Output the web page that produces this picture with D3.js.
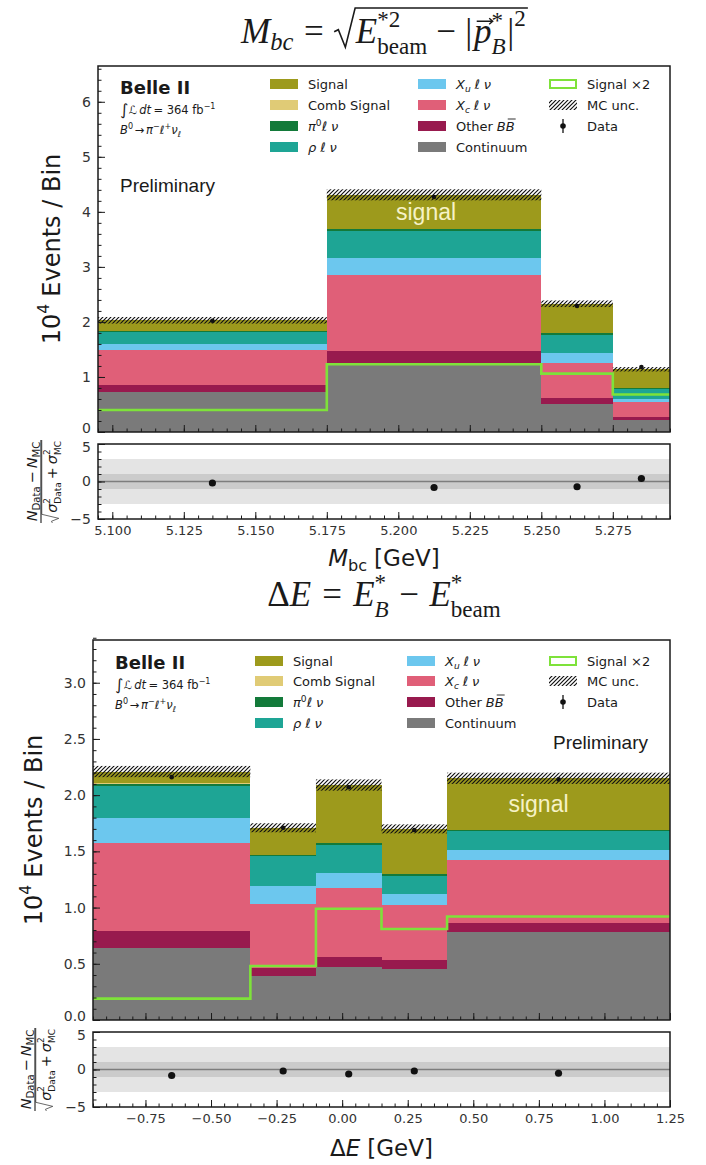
<!DOCTYPE html>
<html>
<head>
<meta charset="utf-8">
<script src="https://cdn.jsdelivr.net/npm/d3@7"></script>
<style>
  body { margin: 0; background: #fff; }
  svg text { font-family: "DejaVu Sans", sans-serif; fill: #1a1a1a; }
</style>
</head>
<body>
<svg id="chart" width="706" height="1165"></svg>
<script>
// ---- M_bc histogram (10^4 events / bin) ----
var mbcEdges     = [5.095, 5.175, 5.25, 5.275, 5.295];
var mbcContinuum = [0.72, 1.25, 0.50, 0.22];
var mbcOtherBB   = [0.14, 0.23, 0.11, 0.05];
var mbcXc        = [0.63, 1.37, 0.65, 0.27];
var mbcXu        = [0.10, 0.32, 0.17, 0.06];
var mbcRho       = [0.22, 0.48, 0.33, 0.18];
var mbcPi0       = [0.02, 0.03, 0.03, 0.02];
var mbcComb      = [0.01, 0.01, 0.00, 0.00];
var mbcSignal    = [0.19, 0.62, 0.54, 0.34];
var mbcUnc       = [0.06, 0.10, 0.06, 0.04];
var mbcData      = [2.02, 4.27, 2.29, 1.18];
var mbcDataErr   = [0.014, 0.021, 0.015, 0.011];
var mbcSignalX2  = [0.40, 1.23, 1.06, 0.68];
var mbcPull      = [-0.2, -0.8, -0.7, 0.4];
var mbcXTicks    = [5.100, 5.125, 5.150, 5.175, 5.200, 5.225, 5.250, 5.275];
var mbcYTicks    = [0, 1, 2, 3, 4, 5, 6];

// ---- Delta E histogram ----
var deEdges     = [-0.95, -0.35, -0.10, 0.15, 0.40, 1.25];
var deContinuum = [0.64, 0.39, 0.47, 0.45, 0.78];
var deOtherBB   = [0.15, 0.07, 0.09, 0.08, 0.08];
var deXc        = [0.78, 0.57, 0.61, 0.49, 0.56];
var deXu        = [0.23, 0.16, 0.14, 0.10, 0.09];
var deRho       = [0.28, 0.27, 0.25, 0.16, 0.17];
var dePi0       = [0.02, 0.01, 0.01, 0.02, 0.01];
var deComb      = [0.01, 0.00, 0.00, 0.00, 0.00];
var deSignal    = [0.10, 0.24, 0.52, 0.40, 0.46];
var deUnc       = [0.05, 0.04, 0.05, 0.04, 0.05];
var deData      = [2.16, 1.71, 2.07, 1.69, 2.14];
var deDataErr   = [0.015, 0.013, 0.014, 0.013, 0.015];
var deSignalX2  = [0.19, 0.48, 0.99, 0.81, 0.92];
var dePull      = [-0.8, -0.2, -0.6, -0.2, -0.5];
var deXTicks    = [-0.75, -0.50, -0.25, 0.00, 0.25, 0.50, 0.75, 1.00, 1.25];
var deYTicks    = [0, 0.5, 1.0, 1.5, 2.0, 2.5, 3.0];

var pullTicks = [-5, 0, 5];

// stacking order, bottom to top
var compKeys = ['continuum', 'otherBB', 'xc', 'xu', 'rho', 'pi0', 'comb', 'signal'];
var compColors = {
  continuum: '#7a7a7a', otherBB: '#981a4e', xc: '#e05f78', xu: '#6cc7ee',
  rho: '#1ea595', pi0: '#137a3a', comb: '#e0cb76', signal: '#9d9a1c'
};
var sig2Color = '#7ee23a';

var svg = d3.select('#chart');
var defs = svg.append('defs');
var hatch = defs.append('pattern').attr('id', 'hatch')
  .attr('patternUnits', 'userSpaceOnUse').attr('width', 4).attr('height', 4);
hatch.append('path').attr('d', 'M-1,1l2,-2M0,4l4,-4M3,5l2,-2')
  .attr('stroke', '#111').attr('stroke-width', 1.2);

// lays out a row of text pieces (base, super/subscripts) and returns positions
function mrow(g, x, y, size, family, items) {
  var cx = x, prevStart = x, pos = {};
  items.forEach(function (d) {
    var start = d.stack ? prevStart : cx + (d.pad || 0) * size;
    var t = g.append('text')
      .attr('x', start).attr('y', y - (d.up || 0) * size)
      .style('font-family', d.ff || family)
      .style('font-size', (size * (d.sc || 1)) + 'px')
      .style('font-style', d.it ? 'italic' : 'normal')
      .style('font-weight', d.bold ? 'bold' : null)
      .text(d.t);
    var w = t.node().getComputedTextLength();
    if (d.id) pos[d.id] = [start, start + w];
    cx = d.stack ? Math.max(cx, start + w) : start + w;
    prevStart = start;
  });
  pos.end = cx;
  return pos;
}

function centerX(g, cx) {
  var bb = g.node().getBBox();
  g.attr('transform', 'translate(' + (cx - bb.x - bb.width / 2) + ',0)');
}

function radical(g, x0, x1, base, top, size) {
  g.append('path')
    .attr('d', 'M' + x0 + ',' + (base - 0.32 * size) +
      'L' + (x0 + 0.12 * size) + ',' + (base - 0.38 * size) +
      'L' + (x0 + 0.32 * size) + ',' + (base + 0.12 * size) +
      'L' + (x0 + 0.6 * size) + ',' + top + 'L' + x1 + ',' + top)
    .attr('fill', 'none').attr('stroke', '#1a1a1a').attr('stroke-width', size * 0.045);
}

function titleMbc(cx, base) {
  var s = 35, ff = '"Liberation Serif", serif';
  var g = svg.append('g');
  var a = mrow(g, 0, base, s, ff, [
    { t: 'M', it: true }, { t: 'bc', it: true, sc: 0.7, up: -0.2 },
    { t: '=', pad: 0.3 }
  ]);
  var rx = a.end + 0.3 * s;
  var b = mrow(g, rx + 0.62 * s, base, s, ff, [
    { t: 'E', it: true }, { t: '*2', sc: 0.66, up: 0.46 },
    { t: 'beam', sc: 0.66, up: -0.32, stack: true },
    { t: '−', pad: 0.26 }, { t: '|', pad: 0.26 },
    { t: 'p', it: true, id: 'p', pad: 0.05 }, { t: '*', sc: 0.66, up: 0.44 },
    { t: 'B', it: true, sc: 0.66, up: -0.32, stack: true },
    { t: '|', pad: 0.05 }, { t: '2', sc: 0.66, up: 0.5 }
  ]);
  radical(g, rx, b.end + 2, base, base - 1.0 * s, s);
  var px = (b.p[0] + b.p[1]) / 2 + 2, py = base - 0.62 * s;
  g.append('path').attr('d', 'M' + (px - 8) + ',' + py + 'H' + (px + 8) + 'M' + (px + 4.5) + ',' + (py - 3) + 'L' + (px + 8) + ',' + py + 'L' + (px + 4.5) + ',' + (py + 3))
    .attr('fill', 'none').attr('stroke', '#1a1a1a').attr('stroke-width', 1.4);
  centerX(g, cx);
}

function titleDE(cx, base) {
  var s = 35, ff = '"Liberation Serif", serif';
  var g = svg.append('g');
  mrow(g, 0, base, s, ff, [
    { t: 'Δ' }, { t: 'E', it: true }, { t: '=', pad: 0.32 },
    { t: 'E', it: true, pad: 0.32 }, { t: '*', sc: 0.66, up: 0.46 },
    { t: 'B', it: true, sc: 0.66, up: -0.32, stack: true },
    { t: '−', pad: 0.3 },
    { t: 'E', it: true, pad: 0.3 }, { t: '*', sc: 0.66, up: 0.46 },
    { t: 'beam', sc: 0.66, up: -0.32, stack: true }
  ]);
  centerX(g, cx);
}

function rotatedLabel(cx, cy, build) {
  var outer = svg.append('g').attr('transform', 'translate(' + cx + ',' + cy + ') rotate(-90)');
  var inner = outer.append('g');
  build(inner);
  var bb = inner.node().getBBox();
  inner.attr('transform', 'translate(' + (-bb.x - bb.width / 2) + ',0)');
}

function pullLabel(cx, cy) {
  var outer = svg.append('g').attr('transform', 'translate(' + cx + ',' + cy + ') rotate(-90)');
  var s = 14.5, ff = '"DejaVu Sans", sans-serif';
  var num = outer.append('g');
  mrow(num, 0, -4, s, ff, [
    { t: 'N', it: true }, { t: 'Data', sc: 0.7, up: -0.22 },
    { t: '−', pad: 0.2 },
    { t: 'N', it: true, pad: 0.2 }, { t: 'MC', sc: 0.7, up: -0.22 }
  ]);
  var den = outer.append('g');
  var dy = 16;
  var d = mrow(den, 0.7 * s, dy, s, ff, [
    { t: 'σ', it: true }, { t: '2', sc: 0.62, up: 0.45 },
    { t: 'Data', sc: 0.62, up: -0.3, stack: true },
    { t: '+', pad: 0.2 },
    { t: 'σ', it: true, pad: 0.2 }, { t: '2', sc: 0.62, up: 0.45 },
    { t: 'MC', sc: 0.62, up: -0.3, stack: true }
  ]);
  radical(den, 0, d.end + 1, dy, dy - 1.05 * s, s);
  var wn = num.node().getBBox().width, wd = den.node().getBBox().width;
  var w = Math.max(wn, wd);
  num.attr('transform', 'translate(' + (-wn / 2) + ',0)');
  den.attr('transform', 'translate(' + (-wd / 2) + ',0)');
  outer.append('line').attr('x1', -w / 2).attr('x2', w / 2).attr('y1', 0).attr('y2', 0)
    .attr('stroke', '#1a1a1a').attr('stroke-width', 1.1);
}

function styleAxis(g, size) {
  g.select('.domain').remove();
  g.selectAll('.tick line').attr('stroke', '#1a1a1a').attr('stroke-width', 1);
  g.selectAll('.tick text').style('font-size', size + 'px').style('fill', '#333')
    .style('font-family', '"DejaVu Sans", sans-serif');
}

function steps(lo, hi, step) {
  var n = Math.round((hi - lo) / step);
  return d3.range(n + 1).map(function (i) { return +(lo + i * step).toFixed(6); });
}

function legendSwatch(g, x, yc, key) {
  g.append('rect').attr('x', x).attr('y', yc - 5).attr('width', 28).attr('height', 10)
    .attr('fill', compColors[key]);
}

function drawLegend(cols, rows, ff) {
  var g = svg.append('g');
  var s = 13;
  var labels1 = [
    [{ t: 'Signal' }], [{ t: 'Comb Signal' }],
    [{ t: 'π', it: true }, { t: '0', sc: 0.7, up: 0.4 }, { t: 'ℓ', it: true }, { t: 'ν', it: true, pad: 0.3 }],
    [{ t: 'ρ', it: true }, { t: 'ℓ', it: true, pad: 0.3 }, { t: 'ν', it: true, pad: 0.3 }]
  ];
  ['signal', 'comb', 'pi0', 'rho'].forEach(function (k, i) {
    legendSwatch(g, cols[0], rows[i], k);
    mrow(g, cols[0] + 38, rows[i] + 5, s, ff, labels1[i]);
  });
  var labels2 = [
    [{ t: 'X', it: true }, { t: 'u', it: true, sc: 0.7, up: -0.2 }, { t: 'ℓ', it: true, pad: 0.3 }, { t: 'ν', it: true, pad: 0.3 }],
    [{ t: 'X', it: true }, { t: 'c', it: true, sc: 0.7, up: -0.2 }, { t: 'ℓ', it: true, pad: 0.3 }, { t: 'ν', it: true, pad: 0.3 }],
    [{ t: 'Other' }, { t: 'B', it: true, pad: 0.3 }, { t: 'B', it: true, id: 'bb' }],
    [{ t: 'Continuum' }]
  ];
  ['xu', 'xc', 'otherBB', 'continuum'].forEach(function (k, i) {
    legendSwatch(g, cols[1], rows[i], k);
    var p = mrow(g, cols[1] + 38, rows[i] + 5, s, ff, labels2[i]);
    if (p.bb) {
      g.append('line').attr('x1', p.bb[0] + 2).attr('x2', p.bb[1] + 1)
        .attr('y1', rows[i] - 7).attr('y2', rows[i] - 7).attr('stroke', '#1a1a1a').attr('stroke-width', 0.9);
    }
  });
  // Signal x2 outline, MC unc. hatch, data marker
  g.append('rect').attr('x', cols[2] + 1).attr('y', rows[0] - 4).attr('width', 26).attr('height', 8)
    .attr('fill', '#fff').attr('stroke', sig2Color).attr('stroke-width', 2);
  mrow(g, cols[2] + 38, rows[0] + 5, s, ff, [{ t: 'Signal ×2' }]);
  g.append('rect').attr('x', cols[2]).attr('y', rows[1] - 5).attr('width', 28).attr('height', 10)
    .attr('fill', 'url(#hatch)');
  mrow(g, cols[2] + 38, rows[1] + 5, s, ff, [{ t: 'MC unc.' }]);
  g.append('line').attr('x1', cols[2] + 14).attr('x2', cols[2] + 14).attr('y1', rows[2] - 7).attr('y2', rows[2] + 7)
    .attr('stroke', '#111').attr('stroke-width', 1.3);
  g.append('circle').attr('cx', cols[2] + 14).attr('cy', rows[2]).attr('r', 2.8).attr('fill', '#111');
  mrow(g, cols[2] + 38, rows[2] + 5, s, ff, [{ t: 'Data' }]);
}

function drawInfo(x, y0) {
  var g = svg.append('g');
  var ff = '"DejaVu Sans", sans-serif';
  g.append('text').attr('x', x).attr('y', y0).style('font-size', '18px').style('font-weight', 'bold').text('Belle II');
  mrow(g, x, y0 + 20, 11.5, ff, [
    { t: '∫', sc: 1.35, up: -0.12 }, { t: 'ℒ', it: true, pad: 0.05 }, { t: 'dt', it: true, pad: 0.2 },
    { t: '= 364 fb', pad: 0.2 }, { t: '−1', sc: 0.7, up: 0.42 }
  ]);
  mrow(g, x, y0 + 40, 11.5, ff, [
    { t: 'B', it: true }, { t: '0', sc: 0.7, up: 0.42 }, { t: '→', pad: 0.15 },
    { t: 'π', it: true, pad: 0.15 }, { t: '−', sc: 0.7, up: 0.42 },
    { t: 'ℓ', it: true }, { t: '+', sc: 0.7, up: 0.42 },
    { t: 'ν', it: true }, { t: 'ℓ', it: true, sc: 0.7, up: -0.22 }
  ]);
}

function drawPanel(p) {
  var b = p.box;
  var x = d3.scaleLinear().domain([p.edges[0], p.edges[p.edges.length - 1]]).range([b.l, b.r]);
  var y = d3.scaleLinear().domain([0, p.yMax]).range([b.b, b.t]);
  var yr = d3.scaleLinear().domain([-5, 5]).range([b.rb, b.rt]);

  var bins = p.edges.slice(0, -1).map(function (lo, i) {
    var o = { lo: lo, hi: p.edges[i + 1], mid: (lo + p.edges[i + 1]) / 2, i: i };
    compKeys.forEach(function (k) { o[k] = p.comps[k][i]; });
    return o;
  });
  var series = d3.stack().keys(compKeys)(bins);
  var g = svg.append('g');

  g.selectAll('g.layer').data(series).join('g').attr('class', 'layer')
    .attr('fill', function (s) { return compColors[s.key]; })
    .selectAll('rect').data(function (s) { return s; }).join('rect')
    .attr('x', function (d) { return x(d.data.lo); })
    .attr('width', function (d) { return x(d.data.hi) - x(d.data.lo); })
    .attr('y', function (d) { return y(d[1]); })
    .attr('height', function (d) { return Math.max(0, y(d[0]) - y(d[1])); })
    .attr('shape-rendering', 'crispEdges');

  var tops = series[series.length - 1];
  // "signal" label inside the biggest signal block
  var sb = tops[p.signalBin];
  g.append('text').attr('x', x(sb.data.mid) + p.signalDx).attr('y', (y(sb[0]) + y(sb[1])) / 2 + 8)
    .attr('text-anchor', 'middle').style('font-family', '"Liberation Sans", Arial, sans-serif')
    .style('font-size', '23px').style('fill', '#f6f2c6').text('signal');

  // MC uncertainty band
  g.selectAll('rect.unc').data(tops).join('rect').attr('class', 'unc')
    .attr('x', function (d) { return x(d.data.lo); })
    .attr('width', function (d) { return x(d.data.hi) - x(d.data.lo); })
    .attr('y', function (d) { return y(d[1] + p.unc[d.data.i]); })
    .attr('height', function (d) { return y(d[1] - p.unc[d.data.i]) - y(d[1] + p.unc[d.data.i]); })
    .attr('fill', 'url(#hatch)');

  // signal x2 step line
  var pts = [];
  bins.forEach(function (d, i) { pts.push([d.lo, p.sig2[i]], [d.hi, p.sig2[i]]); });
  g.append('path').datum(pts)
    .attr('d', d3.line().x(function (d) { return x(d[0]); }).y(function (d) { return y(d[1]); }))
    .attr('fill', 'none').attr('stroke', sig2Color).attr('stroke-width', 2.6);

  // data points
  g.selectAll('line.err').data(bins).join('line').attr('class', 'err')
    .attr('x1', function (d) { return x(d.mid); }).attr('x2', function (d) { return x(d.mid); })
    .attr('y1', function (d) { return y(p.data[d.i] - p.dataErr[d.i]); })
    .attr('y2', function (d) { return y(p.data[d.i] + p.dataErr[d.i]); })
    .attr('stroke', '#111').attr('stroke-width', 1.2);
  g.selectAll('circle.data').data(bins).join('circle').attr('class', 'data')
    .attr('cx', function (d) { return x(d.mid); }).attr('cy', function (d) { return y(p.data[d.i]); })
    .attr('r', 2.3).attr('fill', '#111');

  // main axes
  var minor = steps(p.xMinor[0], p.xMinor[1], p.xMinor[2]);
  g.append('g').attr('transform', 'translate(0,' + b.b + ')')
    .call(d3.axisBottom(x).tickValues(minor).tickSize(-3.5).tickFormat(''))
    .call(styleAxis, 13);
  g.append('g').attr('transform', 'translate(0,' + b.b + ')')
    .call(d3.axisBottom(x).tickValues(p.xTicks).tickSize(-7).tickFormat(''))
    .call(styleAxis, 13);
  g.append('g').attr('transform', 'translate(' + b.l + ',0)')
    .call(d3.axisLeft(y).tickValues(steps(0, p.yMax, p.yMinor)).tickSize(-3.5).tickFormat(''))
    .call(styleAxis, 14);
  var ya = g.append('g').attr('transform', 'translate(' + b.l + ',0)')
    .call(d3.axisLeft(y).tickValues(p.yTicks).tickSize(-7).tickPadding(7).tickFormat(d3.format(p.yFmt)))
    .call(styleAxis, 14);
  // nudge the zero label up so it clears the pull panel's top label
  ya.selectAll('.tick text').filter(function (d) { return d === 0; }).attr('dy', '0.05em');
  g.append('rect').attr('x', b.l).attr('y', b.t).attr('width', b.r - b.l).attr('height', b.b - b.t)
    .attr('fill', 'none').attr('stroke', '#1a1a1a').attr('stroke-width', 1.5);

  // pull panel
  var r = svg.append('g');
  r.append('rect').attr('x', b.l).attr('width', b.r - b.l).attr('y', yr(3)).attr('height', yr(-3) - yr(3)).attr('fill', '#e4e4e4');
  r.append('rect').attr('x', b.l).attr('width', b.r - b.l).attr('y', yr(1)).attr('height', yr(-1) - yr(1)).attr('fill', '#cbcbcb');
  r.append('line').attr('x1', b.l).attr('x2', b.r).attr('y1', yr(0)).attr('y2', yr(0))
    .attr('stroke', '#7d7d7d').attr('stroke-width', 1.5);
  r.selectAll('circle').data(bins).join('circle')
    .attr('cx', function (d) { return x(d.mid); }).attr('cy', function (d) { return yr(p.pull[d.i]); })
    .attr('r', 3.6).attr('fill', '#111');
  r.append('g').attr('transform', 'translate(0,' + b.rb + ')')
    .call(d3.axisBottom(x).tickValues(minor).tickSize(-3.5).tickFormat(''))
    .call(styleAxis, 13);
  r.append('g').attr('transform', 'translate(0,' + b.rb + ')')
    .call(d3.axisBottom(x).tickValues(p.xTicks).tickSize(-7).tickPadding(7).tickFormat(d3.format(p.xFmt)))
    .call(styleAxis, 13);
  r.append('g').attr('transform', 'translate(' + b.l + ',0)')
    .call(d3.axisLeft(yr).tickValues(d3.range(-5, 6)).tickSize(-3.5).tickFormat(''))
    .call(styleAxis, 14);
  var pa = r.append('g').attr('transform', 'translate(' + b.l + ',0)')
    .call(d3.axisLeft(yr).tickValues(pullTicks).tickSize(-7).tickPadding(7).tickFormat(d3.format('d')))
    .call(styleAxis, 14);
  pa.selectAll('.tick text').filter(function (d) { return d === 5; }).attr('dy', '0.55em');
  r.append('rect').attr('x', b.l).attr('y', b.rt).attr('width', b.r - b.l).attr('height', b.rb - b.rt)
    .attr('fill', 'none').attr('stroke', '#1a1a1a').attr('stroke-width', 1.5);
}

// ---- top: M_bc ----
var topBox = { l: 98, r: 670, t: 66, b: 432, rt: 444, rb: 519 };
drawPanel({
  box: topBox, edges: mbcEdges, yMax: 6.65,
  comps: { continuum: mbcContinuum, otherBB: mbcOtherBB, xc: mbcXc, xu: mbcXu, rho: mbcRho,
           pi0: mbcPi0, comb: mbcComb, signal: mbcSignal },
  unc: mbcUnc, data: mbcData, dataErr: mbcDataErr, sig2: mbcSignalX2, pull: mbcPull,
  xTicks: mbcXTicks, xMinor: [5.095, 5.295, 0.005], xFmt: '.3f',
  yTicks: mbcYTicks, yMinor: 0.2, yFmt: 'd',
  signalBin: 1, signalDx: -8
});
titleMbc(384, 43);
drawInfo(120, 94);
svg.append('text').attr('x', 120).attr('y', 192).style('font-family', '"Liberation Sans", Arial, sans-serif')
  .style('font-size', '19px').text('Preliminary');
drawLegend([270, 418, 549], [84, 105, 126, 147], '"DejaVu Sans", sans-serif');
rotatedLabel(60, (topBox.t + topBox.b) / 2, function (g) {
  mrow(g, 0, 0, 24, '"DejaVu Sans", sans-serif', [{ t: '10' }, { t: '4', sc: 0.65, up: 0.45 }, { t: 'Events / Bin', pad: 0.3 }]);
});
pullLabel(41, (topBox.rt + topBox.rb) / 2);
(function () {
  var g = svg.append('g');
  mrow(g, 0, 566, 23, '"DejaVu Sans", sans-serif', [{ t: 'M', it: true }, { t: 'bc', sc: 0.7, up: -0.22 }, { t: '[GeV]', pad: 0.3 }]);
  centerX(g, (topBox.l + topBox.r) / 2);
})();

// ---- bottom: Delta E ----
var botBox = { l: 93, r: 670, t: 640, b: 1020, rt: 1032, rb: 1107 };
drawPanel({
  box: botBox, edges: deEdges, yMax: 3.38,
  comps: { continuum: deContinuum, otherBB: deOtherBB, xc: deXc, xu: deXu, rho: deRho,
           pi0: dePi0, comb: deComb, signal: deSignal },
  unc: deUnc, data: deData, dataErr: deDataErr, sig2: deSignalX2, pull: dePull,
  xTicks: deXTicks, xMinor: [-0.95, 1.25, 0.05], xFmt: '.2f',
  yTicks: deYTicks, yMinor: 0.1, yFmt: '.1f',
  signalBin: 4, signalDx: -20
});
titleDE(384, 606);
drawInfo(115, 669);
svg.append('text').attr('x', 553).attr('y', 749).style('font-family', '"Liberation Sans", Arial, sans-serif')
  .style('font-size', '19px').text('Preliminary');
drawLegend([255, 407, 549], [661, 681, 702, 723], '"DejaVu Sans", sans-serif');
rotatedLabel(42, (botBox.t + botBox.b) / 2, function (g) {
  mrow(g, 0, 0, 24, '"DejaVu Sans", sans-serif', [{ t: '10' }, { t: '4', sc: 0.65, up: 0.45 }, { t: 'Events / Bin', pad: 0.3 }]);
});
pullLabel(35, (botBox.rt + botBox.rb) / 2);
(function () {
  var g = svg.append('g');
  mrow(g, 0, 1156, 23, '"DejaVu Sans", sans-serif', [{ t: 'Δ' }, { t: 'E', it: true }, { t: '[GeV]', pad: 0.3 }]);
  centerX(g, (botBox.l + botBox.r) / 2);
})();
</script>
</body>
</html>
